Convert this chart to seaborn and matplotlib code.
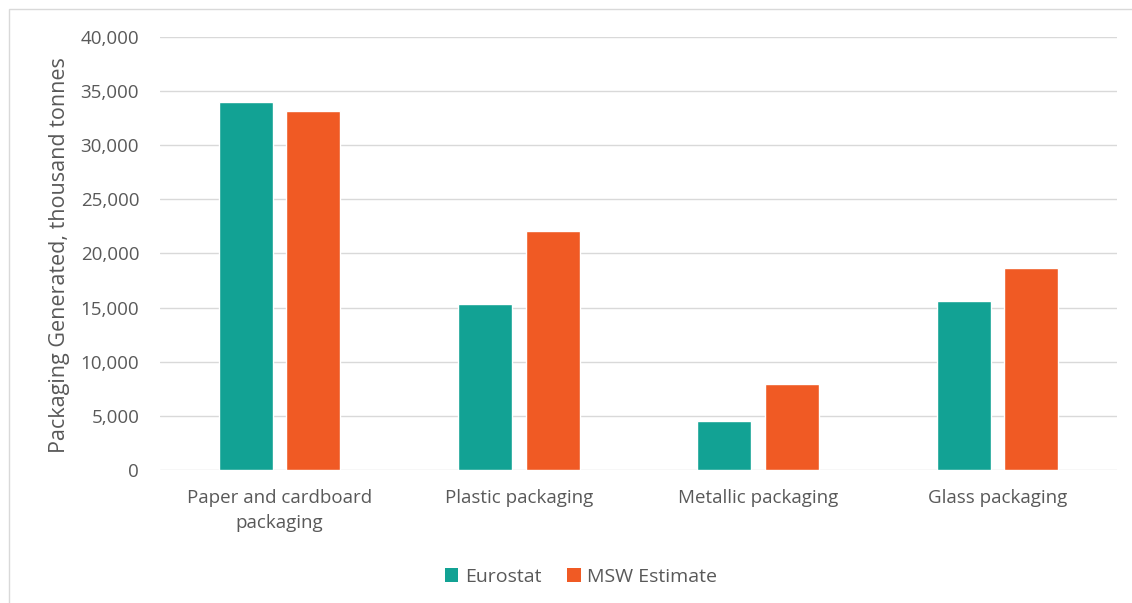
import matplotlib
matplotlib.use("Agg")
import matplotlib.pyplot as plt
import seaborn as sns
import pandas as pd
from matplotlib.patches import Rectangle, Patch
from matplotlib.ticker import FuncFormatter

categories = ["Paper and cardboard\npackaging", "Plastic packaging", "Metallic packaging", "Glass packaging"]
series_names = ["Eurostat", "MSW Estimate"]
eurostat = [34000, 15300, 4500, 15600]
msw_estimate = [33200, 22100, 7900, 18700]
y_ticks = [0, 5000, 10000, 15000, 20000, 25000, 30000, 35000, 40000]

colors = ["#12A294", "#F05A24"]

df = pd.DataFrame({
    "category": categories * 2,
    "series": [series_names[0]] * 4 + [series_names[1]] * 4,
    "value": eurostat + msw_estimate,
})

sns.set_theme(style="white")
plt.rcParams['font.family'] = ['Open Sans', 'DejaVu Sans']

fig = plt.figure(figsize=(11.32, 6.03), dpi=100)
ax = fig.add_axes([160/1132, 1 - 470/603, (1117-160)/1132, (470-37)/603])

sns.barplot(data=df, x="category", y="value", hue="series", order=categories,
            hue_order=series_names, palette=colors, width=0.565, gap=0.2,
            saturation=1, ax=ax, legend=False)

ax.set_ylim(0, 40000)
ax.set_xlim(-0.5, 3.5)
ax.set_yticks(y_ticks)
ax.yaxis.set_major_formatter(FuncFormatter(lambda v, p: f"{int(v):,}"))
ax.grid(axis="y", color="#D9D9D9", linewidth=1)
ax.set_axisbelow(True)
for s in ax.spines.values():
    s.set_visible(False)
ax.tick_params(axis="both", length=0, labelsize=13.5, colors="#595959")
ax.tick_params(axis="y", pad=15)
ax.tick_params(axis="x", pad=14)
ax.set_xlabel("")
ax.set_ylabel("Packaging Generated, thousand tonnes", fontsize=15.5, color="#595959")
ax.yaxis.set_label_coords((70-160)/957, 0.497)
for lbl in ax.get_xticklabels():
    lbl.set_linespacing(1.5)

handles = [Patch(facecolor=c, edgecolor="none") for c in colors]
fig.legend(handles, series_names, loc="center", bbox_to_anchor=(581/1132, 1 - 577/603),
           ncol=2, frameon=False, fontsize=14, handlelength=0.7, handleheight=0.7,
           handletextpad=0.35, columnspacing=1.3, labelcolor="#595959")

fig.patches.append(Rectangle((9/1132, -0.05), 1.2, 1 - 9/603 + 0.05, transform=fig.transFigure,
                             fill=False, edgecolor="#D9D9D9", linewidth=1, zorder=0))

fig.savefig("out.png", dpi=100, facecolor="white")
